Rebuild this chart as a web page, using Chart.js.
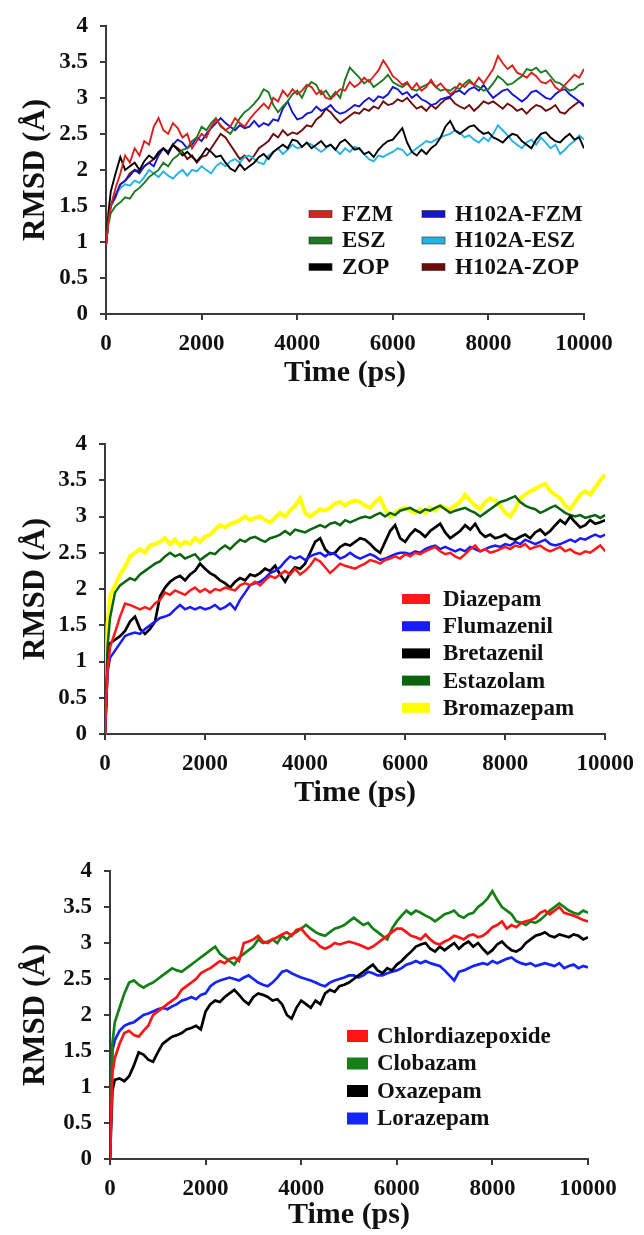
<!DOCTYPE html>
<html>
<head>
<meta charset="utf-8">
<script src="https://cdn.jsdelivr.net/npm/chart.js@4.4.1/dist/chart.umd.min.js"></script>
<style>
  html, body { margin: 0; padding: 0; background: #fff; }
  body { width: 644px; height: 1235px; position: relative; overflow: hidden; }
  .panel { position: absolute; left: 0; width: 644px; }
</style>
</head>
<body>
<div class="panel" style="top:0px;height:391px"><canvas id="chart1"></canvas></div>
<div class="panel" style="top:400px;height:411px"><canvas id="chart2"></canvas></div>
<div class="panel" style="top:810px;height:423px"><canvas id="chart3"></canvas></div>
<script>
// time axis (ps): 0, 50, then every 100 ps up to 10000
const timePs = [0, 50];
for (let t = 100; t <= 10000; t += 100) timePs.push(t);

const xTicks = [0, 2000, 4000, 6000, 8000, 10000];
const yTicks = [0, 0.5, 1, 1.5, 2, 2.5, 3, 3.5, 4];

// ---- panel 1 ----
const labels1 = ['FZM', 'ESZ', 'ZOP', 'H102A-FZM', 'H102A-ESZ', 'H102A-ZOP'];
const colors1 = ['#d8201c', '#1d7a22', '#000000', '#1414d2', '#25b2e6', '#6e0b0b'];

const fzm = [0.95, 1.3,
  1.5, 1.75, 1.95, 2.2, 2.1, 2.3, 2.2, 2.4, 2.35, 2.6,
  2.72, 2.55, 2.5, 2.65, 2.58, 2.45, 2.5, 2.3, 2.4, 2.5,
  2.45, 2.6, 2.7, 2.62, 2.55, 2.6, 2.72, 2.65, 2.6, 2.7,
  2.78, 2.85, 2.92, 2.85, 3.0, 2.95, 3.1, 3.02, 3.12, 3.05,
  3.1, 3.18, 3.15, 3.05, 3.1, 3.0, 2.98, 3.05, 3.12, 3.1,
  3.22, 3.15, 3.2, 3.28, 3.22, 3.3, 3.38, 3.52, 3.42, 3.3,
  3.25, 3.18, 3.22, 3.12, 3.2, 3.1, 3.15, 3.25, 3.15, 3.2,
  3.12, 3.05, 3.1, 3.2, 3.15, 3.22, 3.18, 3.28, 3.2, 3.3,
  3.4, 3.58, 3.48, 3.4, 3.45, 3.35, 3.32, 3.28, 3.35, 3.3,
  3.22, 3.2, 3.25, 3.15, 3.1, 3.18, 3.25, 3.32, 3.28, 3.4];
const esz = [0.95, 1.25,
  1.4, 1.5, 1.55, 1.62, 1.6, 1.7, 1.75, 1.82, 1.9, 1.95,
  2.0, 2.1, 2.05, 2.15, 2.2, 2.28, 2.3, 2.4, 2.45, 2.6,
  2.55, 2.65, 2.72, 2.6, 2.55, 2.5, 2.6, 2.72, 2.8, 2.85,
  2.92, 3.0, 3.12, 3.08, 2.9, 2.8, 2.88, 2.95, 3.05, 3.1,
  3.0, 3.15, 3.22, 3.18, 3.05, 3.1, 3.0, 3.08, 3.0, 3.25,
  3.42, 3.35, 3.28, 3.2, 3.25, 3.15, 3.2, 3.25, 3.32, 3.22,
  3.18, 3.15, 3.2, 3.12, 3.1, 3.15, 3.18, 3.22, 3.15, 3.1,
  3.12, 3.1, 3.15, 3.12, 3.2, 3.25, 3.18, 3.15, 3.1, 3.12,
  3.2, 3.3, 3.25, 3.18, 3.2, 3.25, 3.3, 3.4, 3.38, 3.42,
  3.35, 3.38, 3.3, 3.22, 3.2, 3.15, 3.1, 3.12, 3.18, 3.2];
const zop = [0.95, 1.4,
  1.7, 1.95, 2.18, 2.0, 2.05, 2.1, 2.0, 2.12, 2.2, 2.15,
  2.25, 2.3, 2.22, 2.35, 2.28, 2.2, 2.25, 2.18, 2.12, 2.2,
  2.3, 2.25, 2.18, 2.2, 2.1, 2.02, 1.98, 2.08, 2.0, 2.05,
  2.1, 2.18, 2.22, 2.15, 2.25, 2.3, 2.35, 2.3, 2.42, 2.4,
  2.32, 2.38, 2.3, 2.35, 2.4, 2.32, 2.35, 2.28, 2.38, 2.42,
  2.35, 2.28, 2.3, 2.22, 2.25, 2.18, 2.28, 2.35, 2.4, 2.42,
  2.5, 2.58, 2.38, 2.25, 2.2, 2.28, 2.22, 2.3, 2.35, 2.45,
  2.6, 2.68, 2.55, 2.5, 2.55, 2.6, 2.62, 2.55, 2.5, 2.52,
  2.45, 2.42, 2.38, 2.45, 2.5, 2.48, 2.4, 2.35, 2.3, 2.42,
  2.5, 2.52, 2.45, 2.4, 2.38, 2.45, 2.5, 2.42, 2.45, 2.3];
const h102aFzm = [0.95, 1.3,
  1.5, 1.65, 1.8, 1.85, 1.92, 2.0, 1.95, 2.05, 2.1, 2.05,
  2.2, 2.3, 2.25, 2.35, 2.42, 2.38, 2.3, 2.35, 2.45, 2.4,
  2.5, 2.58, 2.65, 2.72, 2.65, 2.6, 2.55, 2.62, 2.58, 2.6,
  2.68, 2.6, 2.65, 2.62, 2.7, 2.68, 2.85, 2.95, 2.8, 2.7,
  2.72, 2.78, 2.8, 2.88, 2.82, 2.85, 2.9, 2.82, 2.78, 2.8,
  2.85, 2.9, 2.88, 2.95, 3.0, 2.95, 3.02, 3.0, 3.05, 3.15,
  3.12, 3.05, 3.08, 3.0, 3.05, 2.98, 2.95, 2.9, 2.92, 2.98,
  3.0, 3.02, 3.08, 3.1, 3.05, 3.12, 3.15, 3.1, 3.18, 3.08,
  3.0, 3.05, 3.1, 3.12, 3.05, 3.0, 2.95, 3.0, 3.08, 3.1,
  3.05, 3.0, 2.98, 3.05, 3.1, 3.12, 3.05, 3.0, 2.95, 2.88];
const h102aEsz = [0.95, 1.3,
  1.5, 1.65, 1.75, 1.8, 1.78, 1.85, 1.82, 1.9, 2.0, 1.95,
  1.9, 1.98, 1.92, 1.88, 1.95, 2.0, 1.92, 2.0, 1.98, 2.05,
  2.0, 1.95, 2.05, 2.1, 2.05, 2.12, 2.15, 2.1, 2.18, 2.2,
  2.15, 2.1, 2.08, 2.2, 2.25, 2.3, 2.22, 2.28, 2.35, 2.3,
  2.32, 2.38, 2.35, 2.3, 2.25, 2.3, 2.35, 2.28, 2.22, 2.3,
  2.25, 2.32, 2.3, 2.22, 2.15, 2.12, 2.2, 2.18, 2.22, 2.25,
  2.3, 2.28, 2.2, 2.25, 2.3, 2.35, 2.4, 2.38, 2.42, 2.45,
  2.48, 2.5, 2.55, 2.52, 2.45, 2.48, 2.42, 2.38, 2.45, 2.4,
  2.5, 2.62, 2.55, 2.48, 2.4, 2.35, 2.3, 2.38, 2.42, 2.35,
  2.45, 2.38, 2.3, 2.35, 2.22, 2.28, 2.35, 2.4, 2.48, 2.42];
const h102aZop = [0.95, 1.3,
  1.5, 1.62, 1.8, 1.85, 1.95, 2.0, 1.98, 2.05, 2.1, 2.15,
  2.22, 2.3, 2.25, 2.35, 2.3, 2.25, 2.15, 2.2, 2.1, 2.18,
  2.2, 2.3, 2.4, 2.5, 2.45, 2.35, 2.25, 2.15, 2.2, 2.12,
  2.2, 2.3, 2.35, 2.4, 2.5, 2.45, 2.55, 2.48, 2.52, 2.5,
  2.55, 2.62, 2.6, 2.7, 2.75, 2.85, 2.8, 2.72, 2.65, 2.7,
  2.75, 2.8, 2.78, 2.85, 2.82, 2.88, 2.85, 2.95, 2.9, 2.92,
  2.98, 2.95, 3.0, 2.92, 2.85, 2.88, 2.82, 2.9, 2.85, 2.92,
  2.98, 3.0, 2.92, 2.88, 2.85, 2.9, 2.82, 2.88, 2.95, 2.92,
  2.95, 2.9, 2.85, 2.92, 2.88, 2.82, 2.85, 2.78, 2.85, 2.9,
  2.88, 2.82, 2.85, 2.9, 2.8, 2.78, 2.85, 2.9, 2.95, 2.9];
const series1 = [fzm, esz, zop, h102aFzm, h102aEsz, h102aZop];

// ---- panel 2 ----
const labels2 = ['Diazepam', 'Flumazenil', 'Bretazenil', 'Estazolam', 'Bromazepam'];
const colors2 = ['#ff1a1a', '#1a1aff', '#000000', '#0b650f', '#ffff00'];

const diazepam = [0, 0.9,
  1.2, 1.4, 1.62, 1.8, 1.78, 1.75, 1.72, 1.75, 1.72, 1.8,
  1.85, 1.95, 1.92, 1.98, 1.95, 1.92, 1.98, 2.02, 1.96, 2.0,
  1.95, 2.0, 1.98, 2.02, 2.0, 1.98, 2.05, 2.08, 2.05, 2.1,
  2.05, 2.12, 2.18, 2.15, 2.2, 2.25, 2.2, 2.28, 2.2, 2.25,
  2.32, 2.42, 2.38, 2.3, 2.22, 2.28, 2.35, 2.32, 2.3, 2.28,
  2.32, 2.35, 2.4, 2.38, 2.35, 2.4, 2.42, 2.45, 2.42, 2.48,
  2.45, 2.5, 2.48, 2.52, 2.55, 2.58, 2.52, 2.48, 2.5, 2.45,
  2.42, 2.48, 2.55, 2.6, 2.52, 2.55, 2.5, 2.52, 2.55, 2.58,
  2.55, 2.6, 2.58, 2.62, 2.55, 2.58, 2.6, 2.55, 2.52, 2.55,
  2.58, 2.52, 2.55, 2.5, 2.48, 2.52, 2.5, 2.55, 2.6, 2.52];
const flumazenil = [0, 0.85,
  1.05, 1.15, 1.25, 1.35, 1.38, 1.4, 1.38, 1.45, 1.5, 1.55,
  1.6, 1.62, 1.65, 1.72, 1.78, 1.72, 1.75, 1.72, 1.75, 1.72,
  1.74, 1.78, 1.72, 1.75, 1.8, 1.72, 1.85, 1.95, 2.05, 2.08,
  2.1, 2.15, 2.22, 2.25, 2.3, 2.38, 2.45, 2.42, 2.45, 2.4,
  2.45, 2.48, 2.5, 2.45, 2.5, 2.48, 2.42, 2.45, 2.5, 2.45,
  2.42, 2.45, 2.48, 2.45, 2.4, 2.42, 2.45, 2.48, 2.5, 2.5,
  2.48, 2.52, 2.5, 2.55, 2.58, 2.6, 2.55, 2.58, 2.55, 2.52,
  2.55, 2.52, 2.58, 2.55, 2.52, 2.55, 2.58, 2.6, 2.58, 2.62,
  2.6, 2.65, 2.62, 2.68, 2.65, 2.62, 2.65, 2.68, 2.62, 2.6,
  2.62, 2.65, 2.68, 2.65, 2.7, 2.68, 2.72, 2.75, 2.72, 2.75];
const bretazenil = [0, 0.9,
  1.25, 1.3, 1.35, 1.42, 1.55, 1.62, 1.45, 1.38, 1.45, 1.55,
  1.9, 2.02, 2.1, 2.15, 2.18, 2.12, 2.2, 2.25, 2.35, 2.28,
  2.22, 2.18, 2.12, 2.08, 2.02, 2.1, 2.15, 2.12, 2.2, 2.18,
  2.22, 2.28, 2.25, 2.32, 2.2, 2.1, 2.22, 2.3, 2.28, 2.35,
  2.5, 2.65, 2.7, 2.55, 2.48, 2.5, 2.58, 2.62, 2.6, 2.65,
  2.7, 2.68, 2.62, 2.55, 2.5, 2.65, 2.8, 2.88, 2.7, 2.65,
  2.75, 2.82, 2.78, 2.72, 2.8, 2.85, 2.9, 2.78, 2.7, 2.75,
  2.8, 2.88, 2.82, 2.9, 2.78, 2.72, 2.75, 2.7, 2.72, 2.75,
  2.7, 2.68, 2.72, 2.75, 2.7, 2.78, 2.82, 2.75, 2.8, 2.88,
  2.95, 2.9, 3.0, 2.92, 2.85, 2.88, 2.95, 2.9, 2.92, 2.95];
const estazolam = [0, 1.2,
  1.6, 1.95, 2.05, 2.1, 2.15, 2.12, 2.2, 2.25, 2.3, 2.35,
  2.38, 2.45, 2.5, 2.45, 2.48, 2.42, 2.45, 2.48, 2.4, 2.45,
  2.5, 2.48, 2.55, 2.6, 2.55, 2.62, 2.68, 2.65, 2.7, 2.72,
  2.68, 2.65, 2.7, 2.72, 2.75, 2.8, 2.75, 2.82, 2.8, 2.78,
  2.82, 2.85, 2.88, 2.85, 2.9, 2.92, 2.88, 2.95, 2.92, 2.95,
  2.98, 3.0, 2.98, 3.02, 3.05, 3.0, 3.05, 3.02, 3.08, 3.1,
  3.12, 3.08, 3.05, 3.1, 3.08, 3.12, 3.15, 3.1, 3.05, 3.08,
  3.1, 3.12, 3.08, 3.05, 3.0, 3.05, 3.1, 3.15, 3.2, 3.22,
  3.25, 3.28, 3.2, 3.15, 3.12, 3.1, 3.05, 3.08, 3.12, 3.15,
  3.1, 3.05, 3.02, 3.0, 3.02, 2.98, 3.0, 3.02, 2.98, 3.02];
const bromazepam = [0, 1.5,
  1.9, 2.05, 2.2, 2.3, 2.45, 2.5, 2.55, 2.5, 2.6, 2.62,
  2.65, 2.7, 2.62, 2.68, 2.6, 2.65, 2.62, 2.7, 2.65, 2.72,
  2.75, 2.82, 2.88, 2.85, 2.9, 2.92, 2.95, 3.0, 2.95, 2.98,
  3.0, 2.95, 2.92, 2.98, 3.05, 3.0, 3.08, 3.15, 3.25, 3.05,
  3.0, 3.05, 3.1, 3.08, 3.12, 3.18, 3.2, 3.15, 3.2, 3.22,
  3.2, 3.15, 3.12, 3.2, 3.25, 3.1, 3.0, 3.05, 3.1, 3.12,
  3.08, 3.05, 3.1, 3.05, 3.12, 3.08, 3.15, 3.12, 3.1, 3.15,
  3.2, 3.3, 3.22, 3.15, 3.1, 3.2, 3.25, 3.22, 3.15, 3.05,
  3.0, 3.1, 3.25, 3.3, 3.35, 3.38, 3.42, 3.45, 3.35, 3.3,
  3.25, 3.15, 3.1, 3.2, 3.3, 3.35, 3.3, 3.4, 3.5, 3.58];
const series2 = [diazepam, flumazenil, bretazenil, estazolam, bromazepam];

// ---- panel 3 ----
const labels3 = ['Chlordiazepoxide', 'Clobazam', 'Oxazepam', 'Lorazepam'];
const colors3 = ['#ff1414', '#168018', '#000000', '#1424ff'];

const chlordiazepoxide = [0, 1.2,
  1.4, 1.6, 1.75, 1.78, 1.72, 1.7, 1.78, 1.85, 2.0, 2.05,
  2.1, 2.15, 2.2, 2.25, 2.35, 2.4, 2.45, 2.5, 2.58, 2.62,
  2.65, 2.7, 2.75, 2.72, 2.78, 2.8, 2.75, 3.0, 3.02, 3.05,
  3.1, 3.02, 3.0, 3.05, 3.08, 3.12, 3.15, 3.1, 3.18, 3.2,
  3.12, 3.05, 3.02, 2.95, 2.92, 2.95, 3.0, 2.98, 3.0, 3.02,
  3.0, 2.98, 2.95, 2.92, 2.95, 3.0, 3.05, 3.1, 3.15, 3.2,
  3.2, 3.15, 3.1, 3.08, 3.05, 3.12, 3.05, 3.0, 2.98, 3.02,
  3.05, 3.1, 3.08, 3.05, 3.1, 3.12, 3.08, 3.1, 3.15, 3.22,
  3.25, 3.3, 3.2, 3.25, 3.22, 3.28, 3.3, 3.32, 3.35, 3.42,
  3.45, 3.4, 3.45, 3.5, 3.42, 3.4, 3.38, 3.35, 3.32, 3.3];
const clobazam = [0, 1.6,
  1.9, 2.1, 2.3, 2.45, 2.48, 2.42, 2.38, 2.42, 2.45, 2.5,
  2.55, 2.6, 2.65, 2.62, 2.6, 2.65, 2.7, 2.75, 2.8, 2.85,
  2.9, 2.95, 2.85, 2.8, 2.75, 2.7, 2.8, 2.85, 2.9, 2.95,
  3.05, 3.0, 3.02, 3.05, 3.0, 3.1, 3.05, 3.12, 3.15, 3.2,
  3.25, 3.2, 3.15, 3.12, 3.1, 3.15, 3.2, 3.22, 3.25, 3.3,
  3.35, 3.3, 3.25, 3.28, 3.2, 3.15, 3.1, 3.05, 3.2, 3.3,
  3.38, 3.45, 3.4, 3.45, 3.42, 3.38, 3.35, 3.3, 3.35, 3.4,
  3.42, 3.45, 3.38, 3.35, 3.4, 3.42, 3.5, 3.55, 3.62, 3.72,
  3.6, 3.5, 3.45, 3.4, 3.3, 3.28, 3.25, 3.3, 3.28, 3.32,
  3.38, 3.45, 3.5, 3.55, 3.5, 3.45, 3.42, 3.4, 3.45, 3.42];
const oxazepam = [0, 0.95,
  1.1, 1.12, 1.08, 1.15, 1.3, 1.48, 1.45, 1.38, 1.35, 1.48,
  1.6, 1.65, 1.7, 1.72, 1.75, 1.8, 1.82, 1.85, 1.8, 2.05,
  2.15, 2.2, 2.18, 2.25, 2.3, 2.35, 2.28, 2.2, 2.15, 2.25,
  2.3, 2.28, 2.25, 2.2, 2.22, 2.15, 2.0, 1.95, 2.1, 2.2,
  2.15, 2.1, 2.2, 2.15, 2.3, 2.35, 2.32, 2.4, 2.42, 2.45,
  2.5, 2.55, 2.6, 2.65, 2.7, 2.62, 2.58, 2.65, 2.62, 2.7,
  2.75, 2.82, 2.88, 2.95, 2.98, 3.0, 2.92, 2.88, 2.95, 2.9,
  2.95, 3.0, 2.92, 2.98, 3.02, 2.95, 3.0, 2.92, 2.85, 2.9,
  2.98, 3.02, 2.95, 2.9, 2.88, 2.92, 3.0, 3.05, 3.1, 3.12,
  3.15, 3.1, 3.08, 3.12, 3.1, 3.08, 3.12, 3.1, 3.05, 3.08];
const lorazepam = [0, 1.5,
  1.65, 1.78, 1.85, 1.88, 1.9, 1.95, 2.0, 2.02, 2.05, 2.08,
  2.1, 2.08, 2.12, 2.15, 2.2, 2.22, 2.25, 2.22, 2.28, 2.3,
  2.4, 2.45, 2.48, 2.5, 2.52, 2.5, 2.48, 2.52, 2.55, 2.5,
  2.45, 2.42, 2.4, 2.45, 2.52, 2.6, 2.62, 2.58, 2.55, 2.52,
  2.5, 2.48, 2.45, 2.42, 2.4, 2.45, 2.48, 2.5, 2.52, 2.55,
  2.55, 2.52, 2.55, 2.6, 2.58, 2.55, 2.55, 2.58, 2.6, 2.62,
  2.65, 2.7, 2.72, 2.75, 2.72, 2.75, 2.72, 2.7, 2.68, 2.62,
  2.55, 2.48, 2.6, 2.62, 2.65, 2.68, 2.7, 2.72, 2.7, 2.75,
  2.72, 2.75, 2.78, 2.8, 2.75, 2.72, 2.7, 2.72, 2.68, 2.7,
  2.72, 2.7, 2.68, 2.72, 2.65, 2.68, 2.7, 2.65, 2.68, 2.66];
const series3 = [chlordiazepoxide, clobazam, oxazepam, lorazepam];

const FONT = '"Liberation Serif", "Times New Roman", serif';
const AXIS = '#3a3a3a';

// legend drawn inside the plot
const boxLegend = {
  id: 'boxLegend',
  afterDraw(chart, args, o) {
    const ctx = chart.ctx;
    ctx.save();
    ctx.font = 'bold ' + o.size + 'px ' + FONT;
    ctx.textBaseline = 'middle';
    ctx.textAlign = 'left';
    chart.data.datasets.forEach((ds, i) => {
      const col = Math.floor(i / o.rows);
      const row = i % o.rows;
      const x = o.x + col * o.colGap;
      const y = o.y + row * o.rowGap;
      ctx.fillStyle = ds.borderColor;
      ctx.fillRect(x, y - o.boxH / 2, o.boxW, o.boxH);
      if (o.outline) {
        ctx.strokeStyle = 'rgba(40,40,40,0.6)';
        ctx.lineWidth = 1;
        ctx.strokeRect(x, y - o.boxH / 2, o.boxW, o.boxH);
      }
      ctx.fillStyle = '#111';
      ctx.fillText(ds.label, x + o.textGap, y + 1);
    });
    ctx.restore();
  }
};

function makeChart(id, labels, colors, series, lw, plot, legend) {
  const datasets = series.map((vals, i) => ({
    label: labels[i],
    data: vals.map((v, k) => ({ x: timePs[k], y: v })),
    borderColor: colors[i],
    backgroundColor: colors[i],
    borderWidth: Array.isArray(lw) ? lw[i] : lw,
    pointRadius: 0,
    tension: 0,
    fill: false
  }));
  return new Chart(document.getElementById(id), {
    type: 'line',
    data: { datasets: datasets },
    plugins: [boxLegend],
    options: {
      responsive: true,
      maintainAspectRatio: false,
      animation: false,
      events: [],
      layout: { padding: { top: plot.top, right: plot.right, left: 0, bottom: 0 } },
      plugins: {
        legend: { display: false },
        tooltip: { enabled: false },
        boxLegend: legend
      },
      scales: {
        x: {
          type: 'linear',
          min: 0, max: 10000,
          afterBuildTicks: s => { s.ticks = xTicks.map(v => ({ value: v })); },
          afterFit: s => { s.height = plot.xh; },
          border: { display: true, color: AXIS, width: 2 },
          grid: { drawOnChartArea: false, drawTicks: true, tickLength: 6, color: AXIS, lineWidth: 2 },
          ticks: { color: '#111', padding: 10, maxRotation: 0, font: { family: FONT, size: 23, weight: 'bold' },
                   callback: v => String(v) },
          title: { display: true, text: 'Time (ps)', color: '#111', padding: { top: 0, bottom: 0 },
                   font: { family: FONT, size: 30, weight: 'bold' } }
        },
        y: {
          min: 0, max: 4,
          afterBuildTicks: s => { s.ticks = yTicks.map(v => ({ value: v })); },
          afterFit: s => { s.width = plot.left; },
          border: { display: true, color: AXIS, width: 2 },
          grid: { drawOnChartArea: false, drawTicks: true, tickLength: 6, color: AXIS, lineWidth: 2 },
          ticks: { color: '#111', padding: 12, font: { family: FONT, size: 23, weight: 'bold' },
                   callback: v => String(v) },
          title: { display: true, text: 'RMSD (Å)', color: '#111', padding: { top: 17, bottom: 0 },
                   font: { family: FONT, size: 31, weight: 'bold' } }
        }
      }
    }
  });
}

makeChart('chart1', labels1, colors1, series1, 1.9,
  { left: 106, right: 60, top: 25, xh: 77 },
  { x: 309, y: 214, rows: 3, rowGap: 26.5, colGap: 113, boxW: 23, boxH: 7, textGap: 33, size: 23, outline: true });

makeChart('chart2', labels2, colors2, series2, [2.5, 2.5, 2.7, 2.5, 4],
  { left: 105, right: 30, top: 44, xh: 77 },
  { x: 402, y: 199, rows: 5, rowGap: 27.2, colGap: 0, boxW: 28, boxH: 10, textGap: 41, size: 23, outline: false });

makeChart('chart3', labels3, colors3, series3, 2.7,
  { left: 110, right: 56, top: 61, xh: 74 },
  { x: 347, y: 226, rows: 4, rowGap: 27.5, colGap: 0, boxW: 21, boxH: 12, textGap: 30, size: 23, outline: false });
</script>
</body>
</html>
